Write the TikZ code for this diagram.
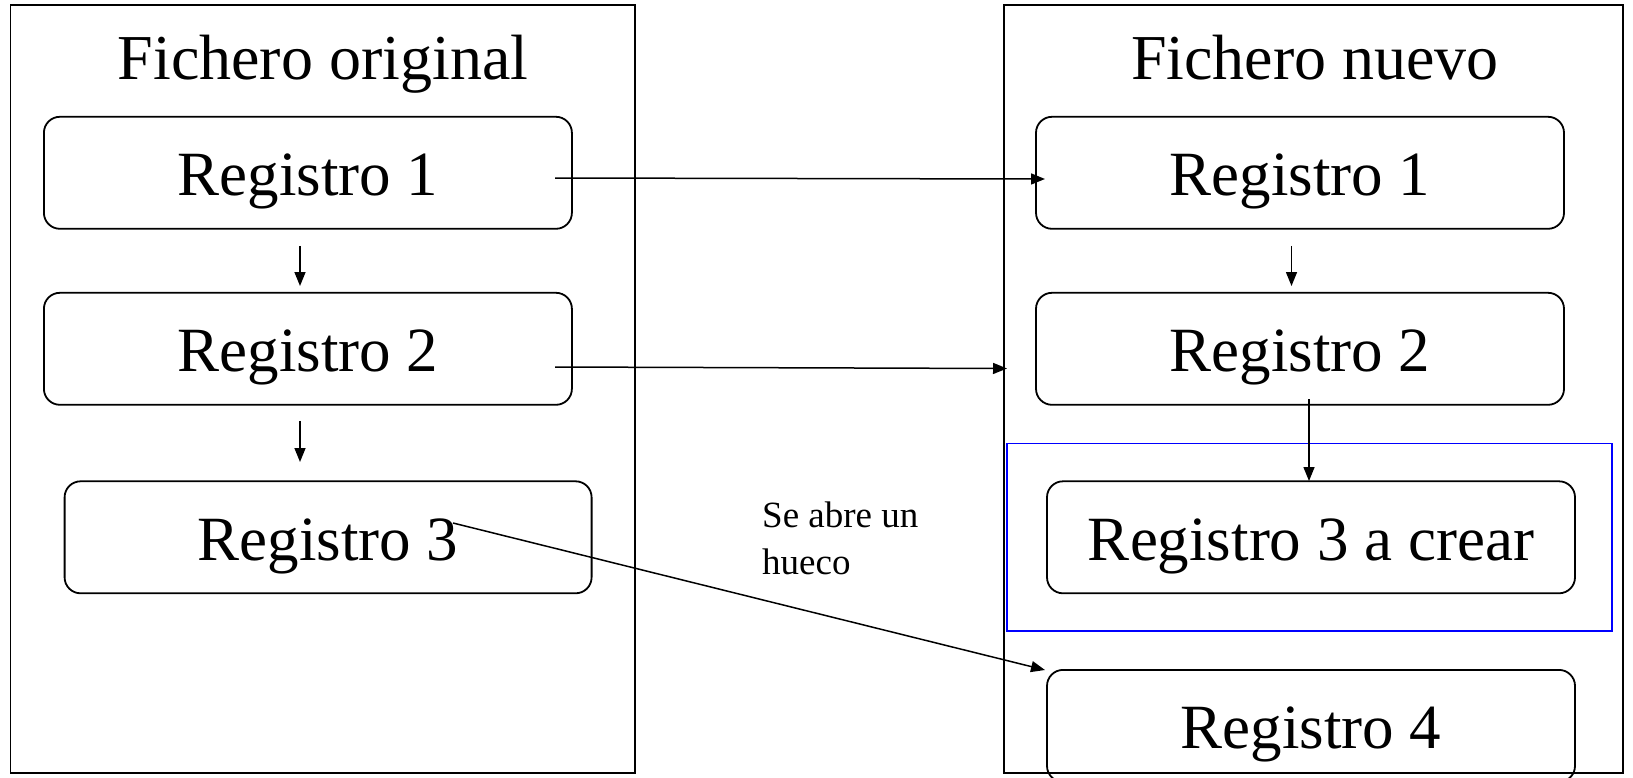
\documentclass[tikz,border=0pt]{standalone}
\usepackage{fontspec}
\setmainfont{Liberation Serif}
\usetikzlibrary{arrows.meta}
\begin{document}
\begin{tikzpicture}[x=1pt,y=-1pt,
  frame/.style={draw=black,line width=1.8pt},
  regbox/.style={draw=black,line width=1.8pt,rounded corners=16pt,minimum width=528pt,minimum height=112pt,inner sep=0pt,text height=50pt,text depth=4pt,font=\fontsize{63}{75}\selectfont},
  title/.style={anchor=base,inner sep=0pt,font=\fontsize{64}{76}\selectfont},
  conn/.style={line width=1.5pt,-{Triangle[length=14pt,width=11pt]}}]
\useasboundingbox (0,0) rectangle (1633,777);
% outer frames
\draw[frame] (10.4,5.2) rectangle (635,773);
\draw[frame] (1004,5.2) rectangle (1623,773);
\draw[blue,line width=1.4pt] (1007,443.7) rectangle (1612,631);
% titles
\node[title] (t1) at (323,79) {Fichero original};
\node[title] (t2) at (1315,79) {Fichero nuevo};
% left boxes
\node[regbox] (l1) at (307.9,172.8) {Registro 1};
\node[regbox] (l2) at (307.9,348.8) {Registro 2};
\node[regbox,minimum width=527pt] (l3) at (328.1,537.3) {Registro 3};
% right boxes
\node[regbox] (r1) at (1300,172.8) {Registro 1};
\node[regbox] (r2) at (1300,348.8) {Registro 2};
\node[regbox] (r3) at (1311,537.3) {Registro 3 a crear};
\node[regbox] (r4) at (1311,725.9) {Registro 4};
% label
\node[anchor=north west,align=left,inner sep=0pt,font=\fontsize{37}{47}\selectfont] (gap) at (762,502) {Se abre un\\hueco};
% connector end points
\coordinate (a1s) at (555,178);
\coordinate (a1e) at (1045,179);
\coordinate (a2s) at (555,367);
\coordinate (a2e) at (1007,368.5);
\coordinate (a3s) at (453,523);
\coordinate (a3e) at (1045,670);
\coordinate (v1s) at (300,245.8);
\coordinate (v1e) at (300,286);
\coordinate (v2s) at (300,420.8);
\coordinate (v2e) at (300,462);
\coordinate (v3s) at (1291.5,245.8);
\coordinate (v3e) at (1291.5,286);
\coordinate (v4s) at (1309,399);
\coordinate (v4e) at (1309,481);
% connectors
\draw[conn] (a1s) -- (a1e);
\draw[conn] (a2s) -- (a2e);
\draw[conn] (a3s) -- (a3e);
\draw[conn] (v1s) -- (v1e);
\draw[conn] (v2s) -- (v2e);
\draw[conn] (v3s) -- (v3e);
\draw[conn] (v4s) -- (v4e);
\end{tikzpicture}
\end{document}
